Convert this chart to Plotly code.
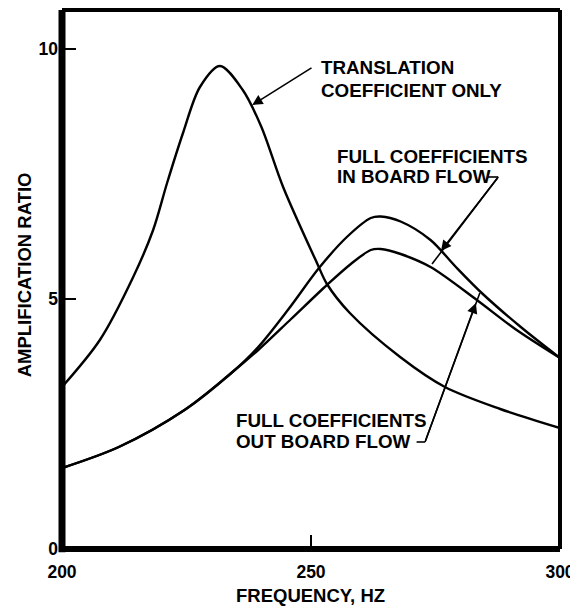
import plotly.graph_objects as go

# ---- data ----
freq_translation = [200, 207.6, 214.3, 218.3, 221.1, 224.3, 227.7, 231.7, 236.3, 240, 244.4, 251.2, 253.2, 257.8, 267.9, 276.9, 288, 300]
amp_translation = [3.24, 4.18, 5.44, 6.38, 7.32, 8.32, 9.24, 9.66, 9.18, 8.45, 7.24, 5.72, 5.30, 4.72, 3.84, 3.24, 2.8, 2.42]

freq_inboard = [200, 211.4, 224.6, 234, 239.4, 245.5, 251.6, 257.2, 262, 264, 268, 274, 279, 284.5, 292, 300]
amp_inboard = [1.62, 2.04, 2.78, 3.52, 4.04, 4.8, 5.62, 6.24, 6.62, 6.65, 6.55, 6.18, 5.65, 5.1, 4.45, 3.82]

freq_outboard = [200, 211.4, 224.6, 234, 239.4, 246, 253.2, 258, 262, 264, 268, 274, 283.3, 291, 300]
amp_outboard = [1.62, 2.04, 2.78, 3.52, 3.98, 4.6, 5.28, 5.7, 5.98, 6.0, 5.9, 5.64, 4.98, 4.4, 3.82]

x_ticks = [200, 250, 300]
y_ticks = [0, 5, 10]

FONT = "Liberation Sans, Arial, sans-serif"
BLACK = "#000000"

fig = go.Figure()
for fx, fy in [(freq_translation, amp_translation),
               (freq_inboard, amp_inboard),
               (freq_outboard, amp_outboard)]:
    fig.add_trace(go.Scatter(x=fx, y=fy, mode="lines",
                             line=dict(color=BLACK, width=2.4, shape="spline", smoothing=0.9),
                             showlegend=False, hoverinfo="skip"))

# frame (different stroke weights as in the original)
frame = [
    dict(x0=0, x1=0, y0=-0.006, y1=1, w=7),
    dict(x0=0, x1=1, y0=0, y1=0, w=6),
    dict(x0=0, x1=1, y0=1, y1=1, w=4),
    dict(x0=1, x1=1, y0=0, y1=1, w=4),
]
shapes = []
for f in frame:
    shapes.append(dict(type="line", xref="paper", yref="paper",
                       x0=f["x0"], x1=f["x1"], y0=f["y0"], y1=f["y1"],
                       line=dict(color=BLACK, width=f["w"]), layer="above"))

# leader lines: (tail x, tail y, arrow tip x, tip y, far end x, far end y, stub start x)
leaders = [
    (250.4, 9.64, 238.2, 8.88, None, None, None),     # translation
    (287.6, 7.44, 276.1, 5.96, 274.3, 5.70, 285.3),   # in board
    (272.9, 2.14, 283.1, 4.92, 283.9, 5.12, 271.2),   # out board
]
annotations = []
for tx, ty, hx, hy, fx_, fy_, sx in leaders:
    if fx_ is not None:
        shapes.append(dict(type="line", xref="x", yref="y", x0=tx, y0=ty, x1=fx_, y1=fy_,
                           line=dict(color=BLACK, width=1.6)))
        shapes.append(dict(type="line", xref="x", yref="y", x0=sx, y0=ty, x1=tx, y1=ty,
                           line=dict(color=BLACK, width=1.6)))
    annotations.append(dict(x=hx, y=hy, xref="x", yref="y", ax=tx, ay=ty,
                            axref="x", ayref="y", text="",
                            showarrow=True, arrowhead=2, arrowsize=1.3, arrowwidth=1.6,
                            arrowcolor=BLACK))

def label(text, x, y):
    annotations.append(dict(x=x, y=y, xref="x", yref="y", text=text, showarrow=False,
                            xanchor="left", yanchor="middle",
                            font=dict(family=FONT, size=18.8, color=BLACK)))

label("<b>TRANSLATION</b>", 251.6, 9.64)
label("<b>COEFFICIENT ONLY</b>", 251.6, 9.18)
label("<b>FULL COEFFICIENTS</b>", 254.8, 7.86)
label("<b>IN BOARD FLOW</b>", 254.8, 7.46)
label("<b>FULL COEFFICIENTS</b>", 234.6, 2.58)
label("<b>OUT BOARD FLOW</b>", 234.6, 2.16)

# axis titles
annotations.append(dict(x=0.498, y=-0.087, xref="paper", yref="paper",
                        text="<b>FREQUENCY, HZ</b>", showarrow=False,
                        xanchor="center", yanchor="middle",
                        font=dict(family=FONT, size=18.5, color=BLACK)))
annotations.append(dict(x=-0.076, y=0.508, xref="paper", yref="paper",
                        text="<b>AMPLIFICATION RATIO</b>", showarrow=False, textangle=-90,
                        xanchor="center", yanchor="middle",
                        font=dict(family=FONT, size=18.5, color=BLACK)))

# the page body has an 8px margin, so the figure is sized to fit the window
fig.update_layout(
    width=570, height=600,
    margin=dict(l=54, r=18, t=2, b=59),
    paper_bgcolor="white", plot_bgcolor="white",
    shapes=shapes, annotations=annotations,
    showlegend=False,
    xaxis=dict(range=[200, 300], tickvals=x_ticks, ticktext=[f"<b>{v}</b>" for v in x_ticks],
               ticks="inside", ticklen=14, tickwidth=1.5, tickcolor=BLACK,
               showgrid=False, zeroline=False, showline=False,
               tickfont=dict(family=FONT, size=17.5, color=BLACK), ticklabelstandoff=10),
    yaxis=dict(range=[0, 10.78], tickvals=y_ticks, ticktext=[f"<b>{v}</b>" for v in y_ticks],
               ticks="inside", ticklen=14, tickwidth=1.5, tickcolor=BLACK,
               showgrid=False, zeroline=False, showline=False,
               tickfont=dict(family=FONT, size=17.5, color=BLACK), ticklabelstandoff=3),
)

fig.write_html("out.html")
